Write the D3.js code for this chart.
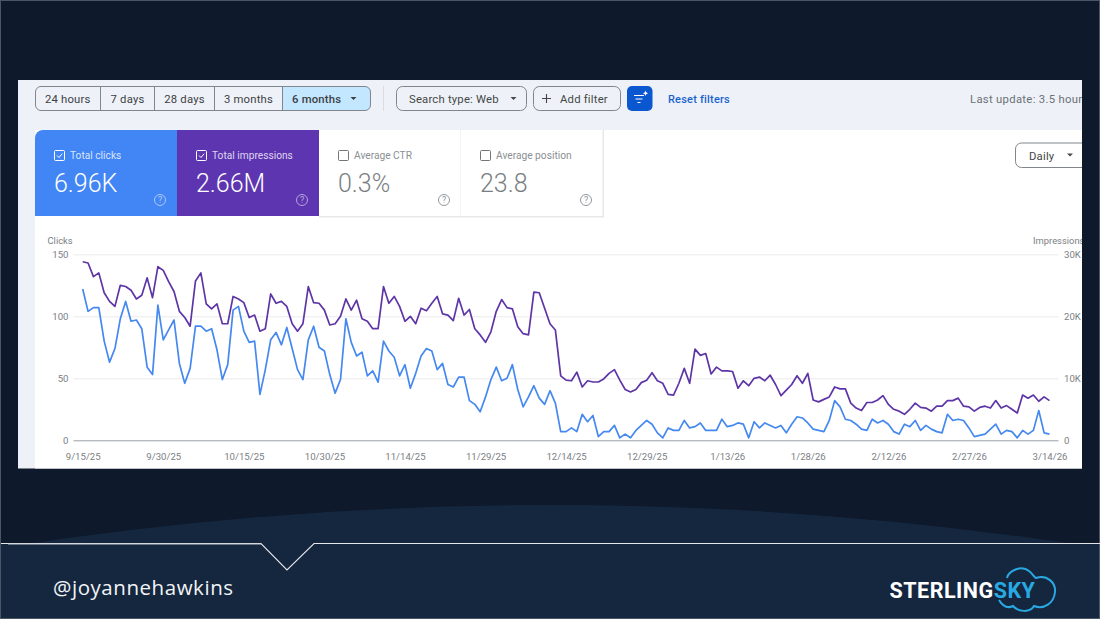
<!DOCTYPE html>
<html>
<head>
<meta charset="utf-8">
<title>Search performance, last 6 months</title>
<script src="https://cdn.jsdelivr.net/npm/d3@7/dist/d3.min.js"></script>
<style>
  html, body { margin: 0; padding: 0; background: #0f1a2c; }
  svg { display: block; font-family: Roboto, sans-serif; }
</style>
</head>
<body>
<svg id="slide" width="1100" height="619"></svg>
<script>
// Daily clicks, 9/15/25 through 3/14/26
const clicks = [
  122,104,107,107,80,63,74,98,112,96,97,90,59,53,109,81,89,97,62,46,
  58,92,92,88,90,73,49,61,105,108,88,79,80,37,57,81,87,77,91,74,
  57,49,81,92,75,72,53,38,49,98,79,68,71,52,56,47,80,72,67,52,
  61,42,54,68,74,72,57,62,45,43,51,51,32,29,23,35,49,59,48,50,
  61,41,27,35,44,34,29,40,30,7,7,10,7,21,15,20,3,7,7,12,
  2,5,2,8,12,16,13,6,2,10,8,8,16,10,11,14,8,8,8,17,
  11,12,14,13,2,15,10,14,12,10,12,6,13,19,18,14,9,8,7,16,
  32,27,17,16,13,9,8,17,14,16,13,7,5,13,11,16,8,12,9,7,
  6,21,16,17,16,10,3,4,5,9,13,5,8,7,2,8,5,8,24,6,5
];

// Daily impressions over the same dates
const impressions = [
  28800,28600,26400,27000,23800,22400,21600,25000,24800,24200,22800,23400,26200,23000,28000,27400,25600,24000,20800,19800,
  18400,25700,27000,22000,21200,22000,18800,18800,23200,22800,22200,19800,20200,17600,18000,23600,22100,22400,21600,18800,
  17600,18800,24800,22200,22100,21000,18600,18800,20000,22800,21000,22600,19600,19200,18000,18000,24800,22100,23200,21600,
  19200,20000,18800,21300,20900,22100,23200,20400,20200,19300,22900,20200,21100,18000,17000,15800,17500,20800,22700,21400,
  21200,18300,17200,17000,23900,23800,21300,18800,17800,10400,9700,9600,11000,8600,9600,9400,9400,9900,10800,11400,
  9700,8200,7800,8200,9300,9700,10900,9600,9200,7400,7300,9200,11600,9200,14700,13700,14000,10700,11800,11200,
  11200,11100,8400,9600,8800,10000,10200,9600,10500,9000,7200,8100,9000,10400,9200,10800,6500,6200,6600,7000,
  8600,8300,8300,6000,5200,4800,6100,6100,6500,7200,5800,5000,4700,4200,5000,6000,5300,5200,4700,5500,
  5500,6400,6400,6800,5500,5400,4700,5300,5500,5200,6400,5200,5600,5000,4400,7300,6800,7300,6300,7000,6400
];

const dateTicks = ["9/15/25","9/30/25","10/15/25","10/30/25","11/14/25","11/29/25","12/14/25","12/29/25","1/13/26","1/28/26","2/12/26","2/27/26","3/14/26"];
const clickTicks = [0, 50, 100, 150];
const impressionTicks = [0, 10000, 20000, 30000];
const rangeButtons = ["24 hours", "7 days", "28 days", "3 months", "6 months"];
const metricNames = ["Total clicks", "Total impressions", "Average CTR", "Average position"];
const metricValues = ["6.96K", "2.66M", "0.3%", "23.8"];

const svg = d3.select("#slide");
const parseDay = d3.utcParse("%m/%d/%y");
const days = d3.utcDay.range(parseDay("9/15/25"), d3.utcDay.offset(parseDay("3/14/26"), 1));

// ---- slide background ----
svg.append("rect").attr("width", 1100).attr("height", 619).attr("fill", "#0e192b");
svg.append("path").attr("d", "M0,548 Q550,462 1100,548 L1100,619 L0,619 Z").attr("fill", "#15273f");
svg.append("rect").attr("y", 544).attr("width", 1100).attr("height", 75).attr("fill", "#15273f");
svg.append("rect").attr("x", 0.5).attr("y", 0.5).attr("width", 1099).attr("height", 618)
  .attr("fill", "none").attr("stroke", "#4a5663").attr("stroke-width", 1);
svg.append("path").attr("d", "M1,543.5 L261,543.5 L287,570 L314,543.5 L1100,543.5")
  .attr("fill", "none").attr("stroke", "#e4e7ea").attr("stroke-width", 1.1);
svg.append("path").attr("d", "M8,544 L261,544").attr("stroke", "#c4c8ce").attr("stroke-width", 1.2);

svg.append("text").attr("x", 53).attr("y", 595).attr("fill", "#f2f4f6")
  .style("font-family", "'Open Sans'").style("font-size", "20.5px").style("letter-spacing", "0.55px")
  .text("@joyannehawkins");

// Sterling Sky wordmark
const logo = svg.append("text").attr("x", 889.5).attr("y", 597.5)
  .style("font-size", "21.5px").style("font-weight", 700).style("letter-spacing", "0.5px");
logo.append("tspan").attr("fill", "#ffffff").text("STERLING");
logo.append("tspan").attr("fill", "#29a9e2").text("SKY");
svg.append("path")
  .attr("d", "M1007,578 C1009,570 1022,565 1029,571 C1033,574 1034,577 1036,578 C1047,574 1056,583 1055,592 C1054,603 1044,610 1034,606 C1030,613 1018,612 1013,606 C1007,609 1002,605 999,600")
  .attr("fill", "none").attr("stroke", "#29a9e2").attr("stroke-width", 2);

// ---- dashboard panel ----
svg.append("clipPath").attr("id", "panel-clip").append("rect")
  .attr("x", 18).attr("y", 80).attr("width", 1064).attr("height", 388.5);
const panel = svg.append("g").attr("clip-path", "url(#panel-clip)");
panel.append("rect").attr("x", 18).attr("y", 80).attr("width", 1064).attr("height", 389).attr("fill", "#eef2f8");
panel.append("rect").attr("x", 35).attr("y", 130).attr("width", 1047).attr("height", 339).attr("fill", "#ffffff");

const textCol = "#444746";

// Date range segmented control
const segEdges = [35, 100.5, 154.5, 214.5, 282.5, 370.5];
panel.append("path")
  .attr("d", "M282.5,86.5 H365 a5.5,5.5 0 0 1 5.5,5.5 V105 a5.5,5.5 0 0 1 -5.5,5.5 H282.5 Z")
  .attr("fill", "#c2e7ff");
panel.append("rect").attr("x", 35.5).attr("y", 86.5).attr("width", 335).attr("height", 24).attr("rx", 5.5)
  .attr("fill", "none").attr("stroke", "#80868b");
segEdges.slice(1, 5).forEach(x => {
  panel.append("line").attr("x1", x).attr("x2", x).attr("y1", 86.5).attr("y2", 110.5).attr("stroke", "#80868b");
});
rangeButtons.forEach((label, i) => {
  panel.append("text").attr("x", i === 4 ? 292 : (segEdges[i] + segEdges[i + 1]) / 2)
    .attr("y", 102.5).attr("text-anchor", i === 4 ? "start" : "middle")
    .attr("fill", "#3c4043").style("font-size", "11.3px").style("font-weight", i === 4 ? 500 : 400)
    .style("letter-spacing", "0.2px").text(label);
});
const caret = (x, y, col) => panel.append("path").attr("d", `M${x - 3},${y - 1.5} h6 l-3,3 Z`).attr("fill", col);
caret(353.5, 98.5, "#3c4043");
panel.append("line").attr("x1", 383.5).attr("x2", 383.5).attr("y1", 86).attr("y2", 111).attr("stroke", "#dadce0");

// Filter chips
panel.append("rect").attr("x", 396.5).attr("y", 86.5).attr("width", 130).attr("height", 24).attr("rx", 6)
  .attr("fill", "none").attr("stroke", "#80868b");
panel.append("text").attr("x", 409).attr("y", 102.5).attr("fill", textCol).style("font-size", "11.3px")
  .style("letter-spacing", "0.2px").text("Search type: Web");
caret(513.5, 98.5, "#444746");
panel.append("rect").attr("x", 533.5).attr("y", 86.5).attr("width", 87).attr("height", 24).attr("rx", 6)
  .attr("fill", "none").attr("stroke", "#80868b");
panel.append("path").attr("d", "M542,98.5 h9 M546.5,94 v9").attr("stroke", "#444746").attr("stroke-width", 1.1);
panel.append("text").attr("x", 560).attr("y", 102.5).attr("fill", textCol).style("font-size", "11.3px")
  .style("letter-spacing", "0.2px").text("Add filter");
panel.append("rect").attr("x", 627).attr("y", 86).attr("width", 25.5).attr("height", 25).attr("rx", 5).attr("fill", "#0b57d0");
panel.append("path").attr("d", "M634,95.5 h10 M635.5,99 h7 M637.5,102.5 h3").attr("stroke", "#fff").attr("stroke-width", 1.1);
panel.append("path").attr("d", "M645.5,90.5 l0.8,2 2,0.8 -2,0.8 -0.8,2 -0.8,-2 -2,-0.8 2,-0.8 Z").attr("fill", "#fff");
panel.append("text").attr("x", 668).attr("y", 102.5).attr("fill", "#1a63cf").style("font-size", "11px")
  .style("font-weight", 500).style("letter-spacing", "0.2px").text("Reset filters");
// The dashboard capture ends mid-word here, so the panel clip trims this label
panel.append("text").attr("x", 970).attr("y", 102.5).attr("fill", "#6b7075").style("font-size", "11.3px")
  .style("letter-spacing", "0.3px").text("Last update: 3.5 hours");

// Metric cards
const cardX = [35, 177, 319, 461];
const cardFill = ["#4285f4", "#5e35b1", "#ffffff", "#ffffff"];
panel.append("rect").attr("x", 319).attr("y", 130).attr("width", 285).attr("height", 87.5).attr("fill", "#e6e8ea");
metricNames.forEach((name, i) => {
  const x = cardX[i], on = i < 2;
  const g = panel.append("g");
  if (i === 0) {
    g.append("path").attr("d", "M35,216 V138 a8,8 0 0 1 8,-8 H177 V216 Z").attr("fill", cardFill[i]);
  } else {
    g.append("rect").attr("x", x).attr("y", 130).attr("width", i > 1 ? 141.5 : 142)
      .attr("height", 86).attr("fill", cardFill[i]);
  }
  g.append("rect").attr("x", x + 19.5).attr("y", 150.5).attr("width", 10).attr("height", 10).attr("rx", 1)
    .attr("fill", "none").attr("stroke", on ? "#fff" : "#757575").attr("stroke-width", 1);
  if (on) {
    g.append("path").attr("d", `M${x + 22},155.5 l2,2 l3.2,-3.8`).attr("fill", "none").attr("stroke", "#fff").attr("stroke-width", 1);
  }
  g.append("text").attr("x", x + 35).attr("y", 159).attr("fill", on ? "rgba(255,255,255,0.8)" : "#8a8f94")
    .style("font-size", "10.2px").text(name);
  g.append("text").attr("x", x + 19).attr("y", 191.5).attr("fill", on ? "#fff" : "#7a7e83")
    .style("font-size", "25px").style("font-weight", 300).text(metricValues[i]);
  const help = g.append("g").attr("transform", `translate(${x + 125},200)`).attr("opacity", on ? 0.55 : 0.85);
  help.append("circle").attr("r", 5.5).attr("fill", "none").attr("stroke", on ? "#fff" : "#80868b").attr("stroke-width", 1);
  help.append("text").attr("y", 3.2).attr("text-anchor", "middle").attr("fill", on ? "#fff" : "#80868b")
    .style("font-size", "9px").text("?");
});

// Granularity dropdown
panel.append("rect").attr("x", 1015.5).attr("y", 143).attr("width", 90).attr("height", 24.5).attr("rx", 6)
  .attr("fill", "#fff").attr("stroke", "#80868b");
panel.append("text").attr("x", 1029).attr("y", 159.5).attr("fill", textCol).style("font-size", "11.3px")
  .style("letter-spacing", "0.2px").text("Daily");
caret(1070, 155, "#444746");

// ---- chart ----
const x = d3.scaleUtc().domain([days[0], days[days.length - 1]]).range([82.7, 1049.5]);
const yClicks = d3.scaleLinear().domain([0, 150]).range([440.3, 254.3]);
const yImpr = d3.scaleLinear().domain([0, 30000]).range([440.3, 254.3]);
const tickGrey = "#7b8085";
const styleAxisText = sel => sel.selectAll("text").attr("fill", tickGrey).style("font-size", "9.6px").style("font-family", "Roboto, sans-serif");

// Left axis with the horizontal gridlines
const leftAxis = panel.append("g").attr("transform", "translate(73.5,0)")
  .call(d3.axisLeft(yClicks).tickValues(clickTicks).tickSize(0).tickPadding(5));
leftAxis.select(".domain").remove();
leftAxis.selectAll(".tick line")
  .attr("x1", 0).attr("x2", 985)
  .attr("stroke", d => d === 0 ? "#9aa0a6" : "#ececec")
  .attr("stroke-width", 1);
styleAxisText(leftAxis);

const impressionLabels = { 0: "0", 10000: "10K", 20000: "20K", 30000: "30K" };
const rightAxis = panel.append("g").attr("transform", "translate(1059,0)")
  .call(d3.axisRight(yImpr).tickValues(impressionTicks).tickSize(0).tickPadding(5)
    .tickFormat(d => impressionLabels[d]));
rightAxis.select(".domain").remove();
styleAxisText(rightAxis);

const bottomAxis = panel.append("g").attr("transform", "translate(0,441)")
  .call(d3.axisBottom(x).tickValues(dateTicks.map(parseDay)).tickSize(0).tickPadding(12)
    .tickFormat((d, i) => dateTicks[i]));
bottomAxis.select(".domain").remove();
styleAxisText(bottomAxis);

panel.append("text").attr("x", 47.5).attr("y", 244).attr("fill", tickGrey).style("font-size", "9.4px").text("Clicks");
panel.append("text").attr("x", 1033).attr("y", 244).attr("fill", tickGrey).style("font-size", "9.4px").text("Impressions");

const line = (scale) => d3.line().x((d, i) => x(days[i])).y(d => scale(d));
panel.append("path").datum(impressions).attr("d", line(yImpr))
  .attr("fill", "none").attr("stroke", "#5e35a6").attr("stroke-width", 1.7).attr("stroke-linejoin", "round");
panel.append("path").datum(clicks).attr("d", line(yClicks))
  .attr("fill", "none").attr("stroke", "#4488f0").attr("stroke-width", 1.7).attr("stroke-linejoin", "round");
</script>
</body>
</html>
